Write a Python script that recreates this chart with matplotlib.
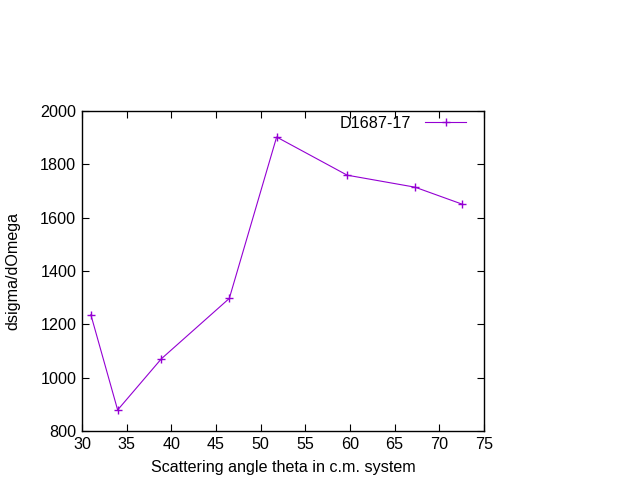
import matplotlib
matplotlib.use("Agg")
import matplotlib.pyplot as plt

# data
theta = [31.0, 34.0, 38.9, 46.5, 51.8, 59.7, 67.3, 72.6]
dsigma = [1236, 879, 1071, 1297, 1902, 1759, 1714, 1650]
label = "D1687-17"

plt.rcParams['font.family'] = ['Liberation Sans', 'DejaVu Sans']
plt.rcParams['font.size'] = 11.6

fig = plt.figure(figsize=(6.4, 4.8), dpi=100)
ax = fig.add_axes([0.128, 0.102, 0.628, 0.667])

ax.plot(theta, dsigma, color='#9400d3', linewidth=0.8, marker='+',
        markersize=6, markeredgewidth=1.0, label=label)

ax.set_xlim(30, 75)
ax.set_ylim(800, 2000)
ax.set_xticks(range(30, 76, 5))
ax.set_yticks(range(800, 2001, 200))
ax.tick_params(direction='in', top=True, right=True, length=5, width=0.8, pad=4)
for s in ax.spines.values():
    s.set_linewidth(1.0)

ax.set_xlabel("Scattering angle theta in c.m. system", labelpad=6)
ax.set_ylabel("dsigma/dOmega", labelpad=14)

ax.legend(loc='upper right', frameon=False, markerfirst=False,
          handlelength=2.5, borderaxespad=0.0, borderpad=0.0,
          handletextpad=0.9, bbox_to_anchor=(0.955, 0.985))

fig.savefig("out.png", dpi=100)
